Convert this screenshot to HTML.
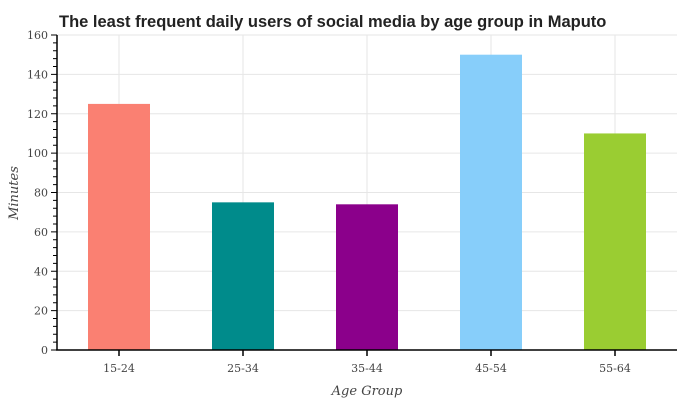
<!DOCTYPE html>
<html><head><meta charset="utf-8"><style>
body{margin:0;background:#fff}
svg text{font-family:"DejaVu Serif","Liberation Serif",serif}
</style></head><body>
<svg id="c" width="680" height="400" xmlns="http://www.w3.org/2000/svg">
<text x="59" y="27" font-family="Liberation Sans,sans-serif" style="font-family:'Liberation Sans',sans-serif" font-weight="bold" font-size="16.5" fill="#222">The least frequent daily users of social media by age group in Maputo</text>
<g id="grid"></g><g id="bars"></g><g id="axes"></g>
<text x="367" y="395" text-anchor="middle" font-size="13" font-style="italic" fill="#444">Age Group</text>
<text transform="translate(18,193) rotate(-90)" text-anchor="middle" font-size="13" font-style="italic" fill="#444">Minutes</text>
</svg>
<script>
const categories=["15-24","25-34","35-44","45-54","55-64"];
const values=[125,75,74,150,110];
const colors=["#fa8072","#008b8b","#8b008b","#87cefa","#9acd32"];
const yTicks=[0,20,40,60,80,100,120,140,160];
const NS="http://www.w3.org/2000/svg";
const L=57,R=677,T=35,B=350,yMax=160;
const y=v=>B-(v/yMax)*(B-T);
const band=(R-L)/categories.length;
const x=i=>L+band*(i+0.5);
function mk(t,a,p){const e=document.createElementNS(NS,t);for(const k in a)e.setAttribute(k,a[k]);p.appendChild(e);return e;}
const g=document.getElementById('grid'),bg=document.getElementById('bars'),ax=document.getElementById('axes');
yTicks.forEach(v=>{
 const l=mk('line',{x1:L,x2:R,y1:y(v),y2:y(v),stroke:'#e6e6e6','stroke-width':1},g);
 
 
});
categories.forEach((c,i)=>{
 const l=mk('line',{x1:x(i),x2:x(i),y1:T,y2:B,stroke:'#e6e6e6','stroke-width':1},g);
 
 
 const r=mk('rect',{x:x(i)-band/4,y:y(values[i]),width:band/2,height:B-y(values[i]),fill:colors[i]},bg);
 
 
 mk('line',{x1:x(i),x2:x(i),y1:B,y2:B+6,stroke:'#000','stroke-width':1.5},ax);
 const t=mk('text',{x:x(i),y:B+22,'text-anchor':'middle','font-size':11,fill:'#444'},ax);
 t.textContent=c;
 
 
});
for(let v=0;v<=yMax;v+=4){
 const maj=v%20===0;
 mk('line',{x1:L-(maj?6:4),x2:L,y1:y(v),y2:y(v),stroke:'#000','stroke-width':1},ax);
}
yTicks.forEach(v=>{
 const t=mk('text',{x:L-9,y:y(v)+4,'text-anchor':'end','font-size':11,fill:'#444'},ax);
 t.textContent=v;
 
 
});
const xa=mk('line',{x1:L-1,x2:R,y1:B,y2:B,stroke:'#000','stroke-width':1.5},ax);


const ya=mk('line',{x1:L,x2:L,y1:T,y2:B,stroke:'#000','stroke-width':1.5},ax);


</script>
</body></html>
